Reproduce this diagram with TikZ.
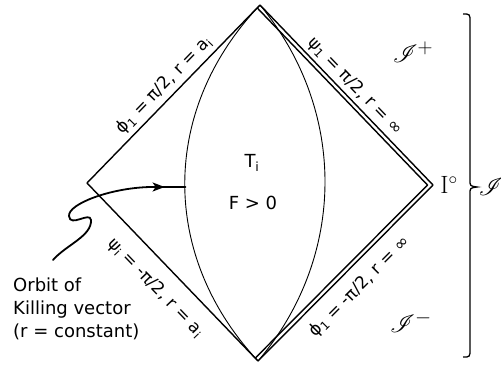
\documentclass[tikz,border=0pt]{standalone}
\usepackage{fontspec}
\usepackage{mathrsfs}
\newfontfamily\lbl{DejaVu Sans}
\usetikzlibrary{arrows.meta,decorations.markings}
\begin{document}
\begin{tikzpicture}[x=1pt,y=-1pt,
  edge/.style={line width=1.4pt, line join=miter},
  lens/.style={line width=0.9pt},
  lab/.style={font=\lbl\fontsize{17}{17}\selectfont, sloped, inner sep=0pt},
  orbit/.style={line width=1.8pt, line cap=round},
  txt/.style={font=\lbl\fontsize{18}{23}\selectfont, inner sep=0pt},
  scri/.style={font=\fontsize{28}{28}\selectfont, inner sep=0pt}]
\useasboundingbox (0,0) rectangle (501,365);
\coordinate (T) at (260,5);
\coordinate (L) at (87,183);
\coordinate (R) at (433,185);
\coordinate (B) at (258,361);
\coordinate (Ti) at (257.2,7.9);
\coordinate (Ri) at (427.5,185);
\coordinate (Bi) at (255.2,358.1);
% diamond edges with labels
\draw[edge] (L) -- node[lab, pos=0.5, above=4pt] {ϕ\textsubscript{1} = π/2, r = a\textsubscript{i}} (T);
\draw[edge] (T) -- node[lab, pos=0.5, above=3pt] {ψ\textsubscript{1} = π/2, r = ∞} (R);
\draw[edge] (L) -- node[lab, pos=0.5, below=14pt] {ψ\textsubscript{i} = -π/2, r = a\textsubscript{i}} (B);
\draw[edge] (B) -- node[lab, pos=0.5, below=11pt] {ϕ\textsubscript{1} = -π/2, r = ∞} (R);
\draw[edge] (Ti) -- (Ri) -- (Bi);
% lens
\draw[lens] (T) .. controls (160,110) and (160,256) .. (B);
\draw[lens] (T) .. controls (347,110) and (347,256) .. (B);
% orbit
\coordinate (S) at (53,260);
\coordinate (E) at (185.5,187);
\draw[orbit, decoration={markings, mark=at position 0.9 with {\arrow{Stealth[length=12pt,width=9pt,inset=3pt]}}}, postaction={decorate}]
  (S) .. controls (66,245) and (92,236) .. (91,220)
      .. controls (90,211) and (70,228) .. (69,216)
      .. controls (68,204) and (110,188) .. (150,187) -- (E);
\node[txt, anchor=north west, align=left] (orb) at (13,278) {Orbit of\\Killing vector\\(r = constant)};
% interior labels
\node[txt] (Tlab) at (252,163) {T\textsubscript{i}};
\node[txt] (Flab) at (253,203) {F > 0};
% right side
\node[font=\fontsize{25}{25}\selectfont, inner sep=0pt] (I0) at (449,185) {I$^{\circ}$};
\node[scri] (Jp) at (413,52) {$\mathscr{I}^{+}$};
\node[scri] (Jm) at (411,322) {$\mathscr{I}^{-}$};
\node[scri] (J) at (491,187) {$\mathscr{I}$};
\draw[line width=1.3pt] (463,14) .. controls (470,14) .. (470,22) -- (470,180)
  .. controls (470,186) .. (477,187) .. controls (470,188) .. (470,194)
  -- (470,349) .. controls (470,357) .. (463,357);
\end{tikzpicture}
\end{document}
